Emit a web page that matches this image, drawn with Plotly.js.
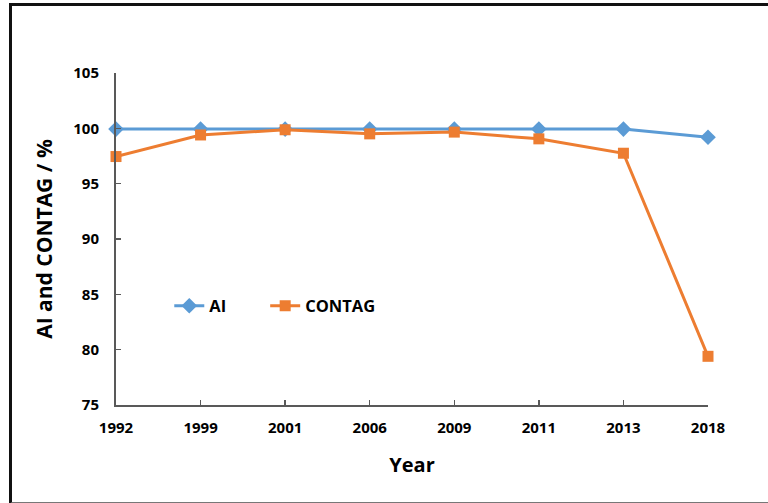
<!DOCTYPE html>
<html>
<head>
<meta charset="utf-8">
<script src="https://cdn.plot.ly/plotly-3.0.1.min.js"></script>
<style>
  html, body { margin: 0; padding: 0; background: #fff; }
  #wrap { position: relative; width: 768px; height: 503px; overflow: hidden; }
  #frame { position: absolute; left: 9px; top: 3px; width: 800px; height: 496px;
           border-left: 3px solid #111; border-top: 3px solid #111; border-bottom: 2px solid #777; pointer-events: none; z-index: 5; }
  #chart { position: absolute; left: 0; top: 0; width: 768px; height: 503px; }
</style>
</head>
<body>
<div id="wrap">
  <div id="chart"></div>
  <div id="frame"></div>
</div>
<script>
const years = ["1992", "1999", "2001", "2006", "2009", "2011", "2013", "2018"];
const aiValues = [99.93, 99.93, 99.93, 99.93, 99.93, 99.93, 99.93, 99.2];
const contagValues = [97.45, 99.4, 99.87, 99.5, 99.66, 99.05, 97.75, 79.4];
const yTicks = [75, 80, 85, 90, 95, 100, 105];

const fontFam = '"Open Sans", "Noto Sans", "DejaVu Sans", sans-serif';

const traces = [
  {
    x: years, y: aiValues, name: 'AI', type: 'scatter', mode: 'lines+markers',
    line: { color: '#5B9BD5', width: 3 },
    marker: { symbol: 'diamond', size: 12, color: '#5B9BD5' },
    cliponaxis: false, legend: 'legend'
  },
  {
    x: years, y: contagValues, name: 'CONTAG', type: 'scatter', mode: 'lines+markers',
    line: { color: '#ED7D31', width: 3 },
    marker: { symbol: 'square', size: 11, color: '#ED7D31' },
    cliponaxis: false, legend: 'legend2'
  }
];

const legFont = { family: fontFam, size: 16.5, color: '#000', weight: 'bold' };

const layout = {
  width: 768, height: 503,
  margin: { l: 116, r: 60, t: 73, b: 98 },
  paper_bgcolor: '#fff', plot_bgcolor: '#fff',
  font: { family: fontFam, color: '#000', size: 15, weight: 'bold' },
  showlegend: true,
  legend: {
    orientation: 'h', x: 0.09, y: 0.298, xanchor: 'left', yanchor: 'middle',
    bgcolor: 'rgba(0,0,0,0)', font: legFont
  },
  legend2: {
    orientation: 'h', x: 0.252, y: 0.298, xanchor: 'left', yanchor: 'middle',
    bgcolor: 'rgba(0,0,0,0)', font: legFont
  },
  xaxis: {
    type: 'category', range: [0, 7],
    showgrid: false, zeroline: false,
    showline: true, linecolor: '#595959', linewidth: 2,
    ticks: 'inside', ticklen: 5, tickcolor: '#595959', tickwidth: 1.5,
    tickfont: { family: fontFam, size: 15, color: '#000', weight: 'bold' },
    ticklabelstandoff: 8,
    title: { text: 'Year', font: { family: fontFam, size: 20, color: '#000', weight: 'bold' }, standoff: 22 }
  },
  yaxis: {
    range: [75, 105], tickvals: yTicks,
    showgrid: false, zeroline: false,
    showline: true, linecolor: '#595959', linewidth: 2,
    ticks: 'inside', ticklen: 5, tickcolor: '#595959', tickwidth: 1.5,
    tickfont: { family: fontFam, size: 15, color: '#000', weight: 'bold' },
    ticklabelstandoff: 12,
    title: { text: 'AI and CONTAG / %', font: { family: fontFam, size: 21, color: '#000', weight: 'bold' }, standoff: 15 }
  }
};

Plotly.newPlot('chart', traces, layout, { displayModeBar: false, staticPlot: true });
</script>
</body>
</html>
